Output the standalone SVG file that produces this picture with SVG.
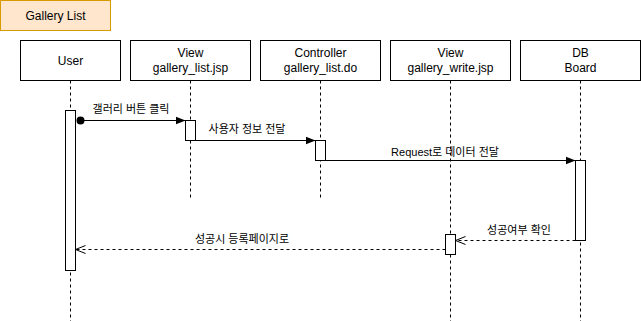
<svg xmlns="http://www.w3.org/2000/svg" width="641" height="321" viewBox="0 0 641 321">
  <style>
    .box { fill: #ffffff; stroke: #000000; stroke-width: 1; }
    .life { stroke: #000000; stroke-width: 1; stroke-dasharray: 3 3; fill: none; }
    .act { fill: #ffffff; stroke: #000000; stroke-width: 1; }
    .msg { stroke: #000000; stroke-width: 1; fill: none; }
    .ret { stroke: #000000; stroke-width: 1; fill: none; stroke-dasharray: 3 3; }
    .lbl { font-family: "Liberation Sans", Arial, "Noto Sans CJK KR", sans-serif; font-size: 12px; fill: #000000; text-anchor: middle; }
    .elbl { font-family: "Liberation Sans", Arial, "Noto Sans CJK KR", sans-serif; font-size: 11px; fill: #000000; text-anchor: middle; }
  </style>
  <defs>
    <marker id="block" viewBox="0 0 10 10" refX="10" refY="5" markerWidth="10" markerHeight="10" markerUnits="userSpaceOnUse" orient="auto">
      <path d="M0,1 L10,5 L0,9 Z" fill="#000000"/>
    </marker>
    <marker id="open" viewBox="0 0 10 10" refX="10" refY="5" markerWidth="10" markerHeight="10" markerUnits="userSpaceOnUse" orient="auto">
      <path d="M0,1 L10,5 L0,9" fill="none" stroke="#000000" stroke-width="1"/>
    </marker>
  </defs>

  <!-- title -->
  <g id="title">
    <rect x="0.5" y="0.5" width="110" height="30" fill="#ffe6cc" stroke="#d79b00"/>
    <text class="lbl" x="55.5" y="19.5">Gallery List</text>
  </g>

  <!-- participants with lifelines -->
  <g id="user">
    <line class="life" x1="70.5" y1="80.5" x2="70.5" y2="321"/>
    <rect class="box" x="20.5" y="40.5" width="100" height="40"/>
    <text class="lbl" x="70.5" y="64.5">User</text>
    <rect class="act" x="65.5" y="110.5" width="10" height="160"/>
  </g>
  <g id="view-list">
    <line class="life" x1="190.5" y1="80.5" x2="190.5" y2="200"/>
    <rect class="box" x="130.5" y="40.5" width="120" height="40"/>
    <text class="lbl" x="190.5" y="57">View</text>
    <text class="lbl" x="190.5" y="72">gallery_list.jsp</text>
    <rect class="act" x="185.5" y="120.5" width="10" height="20"/>
  </g>
  <g id="controller">
    <line class="life" x1="320.5" y1="80.5" x2="320.5" y2="200"/>
    <rect class="box" x="260.5" y="40.5" width="120" height="40"/>
    <text class="lbl" x="320.5" y="57">Controller</text>
    <text class="lbl" x="320.5" y="72">gallery_list.do</text>
    <rect class="act" x="315.5" y="140.5" width="10" height="20"/>
  </g>
  <g id="view-write">
    <line class="life" x1="450.5" y1="80.5" x2="450.5" y2="321"/>
    <rect class="box" x="390.5" y="40.5" width="120" height="40"/>
    <text class="lbl" x="450.5" y="57">View</text>
    <text class="lbl" x="450.5" y="72">gallery_write.jsp</text>
    <rect class="act" x="445.5" y="234.5" width="10" height="20"/>
  </g>
  <g id="db">
    <line class="life" x1="580.5" y1="80.5" x2="580.5" y2="321"/>
    <rect class="box" x="520.5" y="40.5" width="120" height="40"/>
    <text class="lbl" x="580.5" y="57">DB</text>
    <text class="lbl" x="580.5" y="72">Board</text>
    <rect class="act" x="575.5" y="160.5" width="10" height="80"/>
  </g>

  <!-- messages -->
  <g id="connectors">
    <circle cx="80.5" cy="120.5" r="4" fill="#000000"/>
    <line class="msg" x1="80.5" y1="120.5" x2="185.5" y2="120.5" marker-end="url(#block)"/>
    <text class="elbl" x="131" y="113">갤러리 버튼 클릭</text>

    <line class="msg" x1="195.5" y1="140.5" x2="315.5" y2="140.5" marker-end="url(#block)"/>
    <text class="elbl" x="247" y="133">사용자 정보 전달</text>

    <line class="msg" x1="325.5" y1="160.5" x2="575.5" y2="160.5" marker-end="url(#block)"/>
    <text class="elbl" x="445" y="156">Request로 데이터 전달</text>

    <line class="ret" x1="575.5" y1="240.5" x2="455.5" y2="240.5" marker-end="url(#open)"/>
    <text class="elbl" x="519" y="234">성공여부 확인</text>

    <line class="ret" x1="445.5" y1="249.5" x2="75.5" y2="249.5" marker-end="url(#open)"/>
    <text class="elbl" x="242" y="243">성공시 등록페이지로</text>
  </g>
</svg>
